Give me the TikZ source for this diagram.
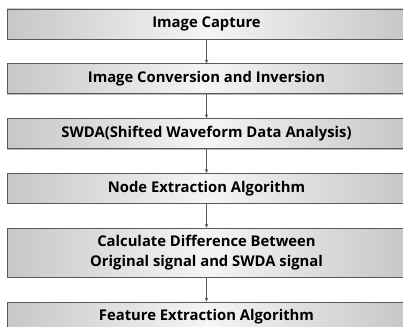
\documentclass[tikz,border=0pt]{standalone}
\usepackage{fontspec}
\setmainfont{Open Sans}
\usepackage{tikz}
\usetikzlibrary{positioning, arrows.meta, shadows}

\begin{document}
\begin{tikzpicture}[x=1pt, y=1pt, node distance=24pt,
  stagebox/.style={draw=black!65, line width=0.8pt, minimum width=399pt,
    minimum height=30pt, inner sep=2pt, align=center,
    left color=black!22, right color=black!22, middle color=black!4,
    drop shadow={shadow xshift=0pt, shadow yshift=-1pt, opacity=0.6, fill=black!45},
    font=\fontsize{14.8}{20}\selectfont\bfseries},
  flow/.style={draw=black!65, line width=0.6pt, -{Stealth[length=4pt, width=3.5pt]}}]
  \useasboundingbox (0,0) rectangle (403,-326);
  \node[stagebox] (capture) at (206.5,-24) {Image Capture};
  \node[stagebox, below=of capture]   (convert) {Image Conversion and Inversion};
  \node[stagebox, below=of convert]   (swda)    {SWDA(Shifted Waveform Data Analysis)};
  \node[stagebox, below=of swda]      (nodeext) {Node Extraction Algorithm};
  \node[stagebox, minimum height=49pt, below=of nodeext] (diff)
    {Calculate Difference Between\\Original signal and SWDA signal};
  \node[stagebox, below=of diff]      (feature) {Feature Extraction Algorithm};

  \draw[flow] (capture) -- (convert);
  \draw[flow] (convert) -- (swda);
  \draw[flow] (swda) -- (nodeext);
  \draw[flow] (nodeext) -- (diff);
  \draw[flow] (diff) -- (feature);
\end{tikzpicture}
\end{document}
